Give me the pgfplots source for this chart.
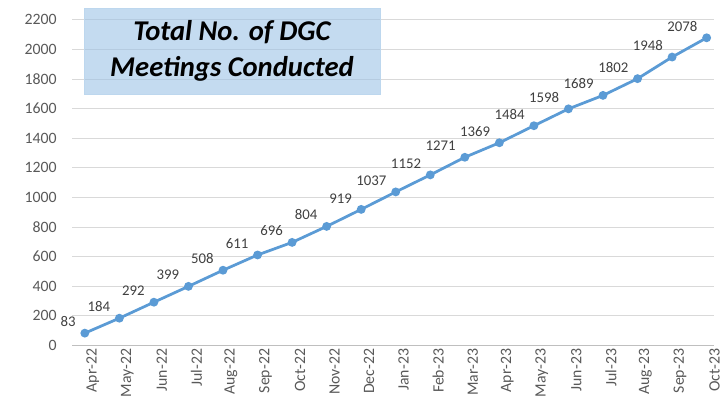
\documentclass[border=0pt]{standalone}
\usepackage{pgfplots}
\pgfplotsset{compat=1.18}
\usepackage{fontspec}
\setmainfont{Carlito}
\definecolor{lineblue}{HTML}{5B9BD5}
\definecolor{gridgray}{HTML}{D9D9D9}
\definecolor{tickgray}{HTML}{595959}
\definecolor{labelgray}{HTML}{404040}
\definecolor{boxblue}{HTML}{9DC3E6}
\definecolor{boxline}{HTML}{BDD7EE}

\begin{document}
\begin{tikzpicture}
\begin{axis}[
    name=ax,
    scale only axis,
    width=650bp, height=330bp,
    xmin=-0.37, xmax=18.2,
    ymin=0, ymax=2200,
    ytick={0,200,...,2200},
    xtick={0,...,18},
    xticklabels={Apr-22,May-22,Jun-22,Jul-22,Aug-22,Sep-22,Oct-22,Nov-22,Dec-22,
                 Jan-23,Feb-23,Mar-23,Apr-23,May-23,Jun-23,Jul-23,Aug-23,Sep-23,Oct-23},
    axis x line*=bottom, axis y line*=left,
    y axis line style={draw=none},
    x axis line style={color=black!25, line width=0.8bp},
    major tick length=0pt,
    ymajorgrids,
    grid style={color=gridgray, line width=0.8bp},
    yticklabel style={font=\fontsize{16bp}{18bp}\selectfont, color=tickgray, xshift=-12bp},
    xticklabel style={rotate=90, anchor=east, font=\fontsize{16bp}{18bp}\selectfont, color=tickgray, yshift=-8bp},
    clip=false,
    /pgf/number format/assume math mode=true,
    /pgf/number format/1000 sep={},
    nodes near coords,
    every node near coord/.append style={anchor=south east, xshift=-7bp, yshift=4bp,
        inner sep=1bp, font=\fontsize{15bp}{17bp}\selectfont, color=labelgray},
]
\addplot[lineblue, line width=2.8bp, mark=*, mark size=3bp] coordinates {
    (0,83) (1,184) (2,292) (3,399) (4,508) (5,611) (6,696) (7,804) (8,919)
    (9,1037) (10,1152) (11,1271) (12,1369) (13,1484) (14,1598) (15,1689)
    (16,1802) (17,1948) (18,2078)
};
\end{axis}
\node[fill=boxblue, fill opacity=0.6, draw=boxline, text opacity=1,
      minimum width=300bp, minimum height=87bp, align=center,
      font=\fontsize{29bp}{37bp}\selectfont\bfseries\itshape]
      at ([shift={(162bp,298.5bp)}]ax.south west) {Total No. of DGC\\Meetings Conducted};
\path[use as bounding box] ([shift={(-73bp,-68bp)}]ax.south west) rectangle ([shift={(0bp,20bp)}]ax.north east);
\end{tikzpicture}
\end{document}
